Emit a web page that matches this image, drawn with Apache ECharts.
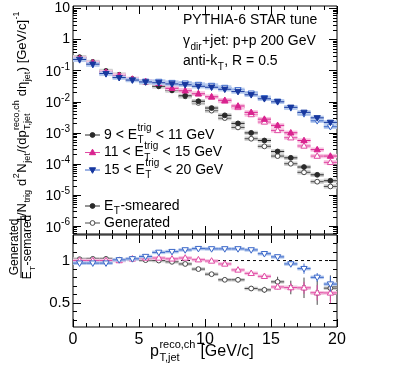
<!DOCTYPE html>
<html>
<head>
<meta charset="utf-8">
<script src="https://cdn.jsdelivr.net/npm/echarts@6/dist/echarts.min.js"></script>
<style>
  html, body { margin: 0; padding: 0; background: #fff; }
  #chart { width: 407px; height: 376px; }
</style>
</head>
<body>
<div id="chart"></div>
<script>
const FONT = '"Liberation Sans", Arial, sans-serif';

// bin centres of p_T,jet (GeV/c), bins are 1 GeV/c wide
const binCenters = [0.5, 1.5, 2.5, 3.5, 4.5, 5.5, 6.5, 7.5, 8.5, 9.5,
                    10.5, 11.5, 12.5, 13.5, 14.5, 15.5, 16.5, 17.5, 18.5, 19.5];
const binHalfWidth = 0.5;

// 9 < E_T^trig < 11 GeV
const smeared9to11 = [0.267, 0.188, 0.096, 0.073, 0.053, 0.0426, 0.0316, 0.0235, 0.0156, 0.0104,
                      0.0063, 0.00367, 0.00202, 0.00100, 5.7e-4, 2.53e-4, 1.58e-4, 8.0e-5, 4.5e-5, 2.9e-5];
const generated9to11 = [0.272, 0.19, 0.098, 0.074, 0.054, 0.0425, 0.0315, 0.0232, 0.015, 0.0092,
                        0.0052, 0.0030, 0.0015, 6.5e-4, 3.7e-4, 1.8e-4, 1.02e-4, 5.4e-5, 2.7e-5, 1.9e-5];
// 11 < E_T^trig < 15 GeV
const smeared11to15 = [0.248, 0.179, 0.0895, 0.070, 0.053, 0.0442, 0.0395, 0.0272, 0.0226, 0.0181,
                       0.0145, 0.0112, 0.00733, 0.00458, 0.00277, 0.00175, 0.00101, 5.7e-4, 2.9e-4, 1.8e-4];
const generated11to15 = [0.248, 0.18, 0.09, 0.071, 0.054, 0.0455, 0.041, 0.028, 0.0233, 0.0184,
                         0.0143, 0.0106, 0.0066, 0.0039, 0.00225, 0.0012, 7.0e-4, 3.8e-4, 1.8e-4, 1.13e-4];
// 15 < E_T^trig < 20 GeV
const smeared15to20 = [0.23, 0.162, 0.081, 0.060, 0.050, 0.0435, 0.041, 0.0375, 0.0353, 0.0316,
                       0.0294, 0.0253, 0.0213, 0.0168, 0.0125, 0.0100, 0.00665, 0.00458, 0.00305, 0.00218];
const generated15to20 = [0.223, 0.157, 0.079, 0.061, 0.051, 0.0455, 0.045, 0.0415, 0.0397, 0.036,
                         0.0334, 0.0288, 0.0242, 0.0189, 0.0135, 0.0104, 0.0064, 0.0041, 0.00245, 0.00158];

// Generated / E_T-smeared ratios and their errors
const ratio9to11 = [1.016, 1.02, 1.02, 1.01, 1.02, 1.005, 1.0, 0.985, 0.96, 0.90,
                    0.84, 0.774, 0.774, 0.672, 0.656, 0.75, 0.684, 0.68, 0.62, 0.676];
const ratioErr9to11 = [0.01, 0.01, 0.01, 0.01, 0.01, 0.01, 0.01, 0.012, 0.015, 0.02,
                       0.02, 0.025, 0.03, 0.03, 0.035, 0.06, 0.08, 0.12, 0.14, 0.15];
const ratio11to15 = [1.0, 1.0, 1.0, 1.0, 1.02, 1.03, 1.03, 1.02, 1.03, 1.01,
                     0.995, 0.96, 0.89, 0.85, 0.815, 0.69, 0.683, 0.68, 0.622, 0.62];
const ratioErr11to15 = [0.01, 0.01, 0.01, 0.01, 0.01, 0.01, 0.01, 0.01, 0.01, 0.012,
                        0.015, 0.015, 0.02, 0.02, 0.025, 0.03, 0.05, 0.07, 0.09, 0.12];
const ratio15to20 = [0.97, 0.97, 0.97, 1.008, 1.02, 1.047, 1.096, 1.105, 1.125, 1.14,
                     1.137, 1.137, 1.137, 1.125, 1.08, 1.043, 0.96, 0.905, 0.803, 0.724];
const ratioErr15to20 = [0.01, 0.01, 0.01, 0.01, 0.01, 0.01, 0.01, 0.01, 0.01, 0.01,
                        0.01, 0.01, 0.012, 0.015, 0.02, 0.02, 0.03, 0.06, 0.05, 0.09];

const unityLine = [[0, 1], [20, 1]];

const topLabelExponents = [-6, -5, -4, -3, -2, -1, 0, 1];
const ratioLabels = [0.5, 1];

const colors = {
  black:   { dark: '#2a2a2a', open: '#4a4a4a', light: '#cfcfcf' },
  magenta: { dark: '#d9238f', open: '#e04aa4', light: '#f7c3e0' },
  blue:    { dark: '#17389f', open: '#3a67c9', light: '#b7cbee' }
};

// text measuring for the little TLatex-like labels
const measureCtx = document.createElement('canvas').getContext('2d');
function textWidth(s, size) {
  measureCtx.font = size + 'px ' + FONT;
  return measureCtx.measureText(s).width;
}

// tokens: [base, superscript, subscript]; sup/sub are stacked like ROOT does
function latex(tokens, size, color, scriptSize) {
  const small = scriptSize || Math.round(size * 0.7);
  const kids = [];
  let x = 0;
  const txt = (s, px, dx, dy) => ({
    type: 'text', x: dx, y: dy, silent: true,
    style: { text: s, font: px + 'px ' + FONT, fill: color, textAlign: 'left', textVerticalAlign: 'middle' }
  });
  tokens.forEach(([t, sup, sub]) => {
    if (t) { kids.push(txt(t, size, x, 0)); x += textWidth(t, size); }
    let w = 0;
    if (sup) { kids.push(txt(sup, small, x + 0.5, -size * 0.45)); w = Math.max(w, textWidth(sup, small) + 1); }
    if (sub) { kids.push(txt(sub, small, x + 0.5, size * 0.38)); w = Math.max(w, textWidth(sub, small) + 1); }
    x += w;
  });
  return { kids, width: x };
}

function placeLatex(tokens, size, x, y, opts) {
  opts = opts || {};
  const lt = latex(tokens, size, opts.color || '#000', opts.scriptSize);
  let shift = 0;
  if (opts.anchor === 'end') shift = -lt.width;
  else if (opts.anchor === 'middle') shift = -lt.width / 2;
  lt.kids.forEach(k => { k.x += shift; });
  return { type: 'group', x, y, rotation: opts.rotation || 0, children: lt.kids, silent: true };
}

function markerShape(shape, cx, cy, color, filled) {
  const style = { fill: filled ? color : '#fff', stroke: color, lineWidth: 1 };
  if (shape === 'circle') return { type: 'circle', shape: { cx, cy, r: 2.4 }, style };
  const s = shape === 'up' ? 1 : -1;
  return {
    type: 'polygon',
    shape: { points: [[cx, cy - 3.3 * s], [cx + 3.1, cy + 2.2 * s], [cx - 3.1, cy + 2.2 * s]] },
    style
  };
}

function pointRenderer(shape, palette, filled, boxHalf) {
  const color = filled ? palette.dark : palette.open;
  return (params, api) => {
    const x = api.value(0), y = api.value(1), e = api.value(2) || 0;
    const c = api.coord([x, y]);
    const l = api.coord([x - binHalfWidth, y]);
    const r = api.coord([x + binHalfWidth, y]);
    const kids = [
      { type: 'rect', shape: { x: l[0], y: c[1] - boxHalf, width: r[0] - l[0], height: 2 * boxHalf },
        style: { fill: palette.light } },
      { type: 'line', shape: { x1: l[0], y1: c[1], x2: r[0], y2: c[1] },
        style: { stroke: color, lineWidth: 1 } }
    ];
    if (e > 0) {
      const lo = api.coord([x, y - e]), hi = api.coord([x, y + e]);
      kids.push({ type: 'line', shape: { x1: c[0], y1: lo[1], x2: c[0], y2: hi[1] },
        style: { stroke: color, lineWidth: 1 } });
    }
    kids.push(markerShape(shape, c[0], c[1], color, filled));
    return { type: 'group', children: kids };
  };
}

function spectrumSeries(name, values, shape, palette, filled) {
  return {
    name, type: 'custom', xAxisIndex: 0, yAxisIndex: 0, clip: true,
    data: values.map((v, i) => [binCenters[i], Math.log10(v), 0]),
    renderItem: pointRenderer(shape, palette, filled, 2.2),
    z: filled ? 4 : 3
  };
}

function ratioSeries(name, values, errs, shape, palette) {
  return {
    name, type: 'custom', xAxisIndex: 2, yAxisIndex: 4, clip: true,
    data: values.map((v, i) => [binCenters[i], v, errs[i]]),
    renderItem: pointRenderer(shape, palette, false, 1.8),
    z: 3
  };
}

// tick positions
const logMinor = [];
for (let n = -7; n <= 1; n++) for (let k = 2; k <= 9; k++) logMinor.push(n + Math.log10(k));
const ratioMinor = [0.3, 0.4, 0.6, 0.7, 0.8, 0.9, 1.1, 1.2];

const TOP = { min: -6.25, max: 1.08 };
const LOW = { min: 0.22, max: 1.3 };

function xAxisDef(gridIndex, position, labels) {
  return {
    type: 'value', gridIndex, position, min: 0, max: 20, interval: 5,
    axisLine: { show: false, onZero: false }, splitLine: { show: false },
    axisTick: { show: true, inside: true, length: 8, lineStyle: { color: '#000' } },
    minorTick: { show: true, splitNumber: 5, length: 4, lineStyle: { color: '#000' } },
    axisLabel: labels ? { show: true, margin: 5, fontSize: 16, fontFamily: FONT, color: '#000' } : { show: false }
  };
}

function yAxisDef(gridIndex, position, range, ticks, len, label) {
  return {
    type: 'value', gridIndex, position, min: range.min, max: range.max,
    axisLine: { show: false, onZero: false }, splitLine: { show: false },
    axisTick: { show: true, inside: true, length: len, customValues: ticks, lineStyle: { color: '#000' } },
    axisLabel: label || { show: false }
  };
}

const topLabel = {
  show: true, customValues: topLabelExponents, margin: 3, color: '#000',
  formatter: v => {
    const n = Math.round(v);
    if (n === 1) return '{b|10}';
    if (n === 0) return '{b|1}';
    return '{b|10}{s|' + n + '}';
  },
  rich: {
    b: { fontSize: 14, fontFamily: FONT, color: '#000', verticalAlign: 'bottom' },
    s: { fontSize: 10, fontFamily: FONT, color: '#000', verticalAlign: 'bottom', padding: [0, 0, 7, 0] }
  }
};

const lowLabel = {
  show: true, customValues: ratioLabels, margin: 3, color: '#000',
  fontSize: 15, fontFamily: FONT,
  formatter: v => (v === 1 ? '1' : String(v))
};

const chart = echarts.init(document.getElementById('chart'));

const series = [
  spectrumSeries('gen 9-11', generated9to11, 'circle', colors.black, false),
  spectrumSeries('gen 11-15', generated11to15, 'up', colors.magenta, false),
  spectrumSeries('gen 15-20', generated15to20, 'down', colors.blue, false),
  spectrumSeries('smeared 9-11', smeared9to11, 'circle', colors.black, true),
  spectrumSeries('smeared 11-15', smeared11to15, 'up', colors.magenta, true),
  spectrumSeries('smeared 15-20', smeared15to20, 'down', colors.blue, true),
  {
    name: 'unity', type: 'line', xAxisIndex: 2, yAxisIndex: 4, data: unityLine,
    symbol: 'none', silent: true, z: 2,
    lineStyle: { color: '#000', width: 1, type: [3, 3] }
  },
  ratioSeries('ratio 9-11', ratio9to11, ratioErr9to11, 'circle', colors.black),
  ratioSeries('ratio 11-15', ratio11to15, ratioErr11to15, 'up', colors.magenta),
  ratioSeries('ratio 15-20', ratio15to20, ratioErr15to20, 'down', colors.blue)
];

// legend drawn like the ROOT TLegend
const legendRows = [
  { y: 135, tokens: [['9 < E', 'trig', 'T'], [' < 11 GeV']], shape: 'circle', pal: colors.black, line: colors.black.dark, filled: true },
  { y: 152.5, tokens: [['11 < E', 'trig', 'T'], [' < 15 GeV']], shape: 'up', pal: colors.magenta, line: colors.magenta.open, filled: true },
  { y: 170, tokens: [['15 < E', 'trig', 'T'], [' < 20 GeV']], shape: 'down', pal: colors.blue, line: colors.blue.open, filled: true },
  { y: 206, tokens: [['E', null, 'T'], ['-smeared']], shape: 'circle', pal: colors.black, line: colors.black.dark, filled: true },
  { y: 223, tokens: [['Generated']], shape: 'circle', pal: colors.black, line: colors.black.open, filled: false }
];
const legendGraphics = [];
legendRows.forEach(row => {
  legendGraphics.push({ type: 'line', silent: true, shape: { x1: 85, y1: row.y, x2: 100, y2: row.y },
    style: { stroke: row.line, lineWidth: 1 } });
  legendGraphics.push(markerShape(row.shape, 92.5, row.y, row.filled ? row.pal.dark : row.pal.open, row.filled));
  legendGraphics.push(placeLatex(row.tokens, 14, 104, row.y));
});

const yTitleTokens = [['1/N', null, 'trig'], [' d', '2'], ['N', null, 'jet'], ['/(dp', 'reco,ch', 'T,jet'],
                      [' d\u03b7', null, 'jet'], [') [GeV/c]', '-1']];

const graphics = [
  placeLatex([['PYTHIA-6 STAR tune']], 14, 183, 20.5),
  placeLatex([['\u03b3', null, 'dir'], ['+jet: p+p 200 GeV']], 14, 183, 41.5),
  placeLatex([['anti-k', null, 'T'], [', R = 0.5']], 14, 183, 61.5),
  ...legendGraphics,
  // y title of the spectrum pad, ending near the top of the frame
  placeLatex(yTitleTokens, 13, 22.5, 11, { rotation: Math.PI / 2, anchor: 'end', scriptSize: 9 }),
  // x title
  placeLatex([['p', 'reco,ch', 'T,jet'], [' [GeV/c]']], 16, 150, 352, { scriptSize: 11 }),
  // ratio pad y title (fraction)
  {
    type: 'group', x: 21, y: 247, rotation: Math.PI / 2, silent: true,
    children: [
      placeLatex([['Generated']], 12, 0, -6.5, { anchor: 'middle' }),
      { type: 'line', shape: { x1: -31, y1: 0, x2: 31, y2: 0 }, style: { stroke: '#000', lineWidth: 1 } },
      placeLatex([['E', null, 'T'], ['-semared']], 12, 0, 7, { anchor: 'middle', scriptSize: 8 })
    ]
  }
];

chart.setOption({
  animation: false,
  backgroundColor: '#fff',
  grid: [
    { left: 73, top: 6, width: 264, height: 228, show: true, borderColor: '#000', borderWidth: 1, backgroundColor: 'transparent' },
    { left: 73, top: 235, width: 264, height: 92, show: true, borderColor: '#000', borderWidth: 1, backgroundColor: 'transparent' }
  ],
  xAxis: [
    xAxisDef(0, 'bottom', false),
    xAxisDef(0, 'top', false),
    xAxisDef(1, 'bottom', true),
    xAxisDef(1, 'top', false)
  ],
  yAxis: [
    yAxisDef(0, 'left', TOP, topLabelExponents, 8, topLabel),
    yAxisDef(0, 'left', TOP, logMinor, 4),
    yAxisDef(0, 'right', TOP, topLabelExponents, 8),
    yAxisDef(0, 'right', TOP, logMinor, 4),
    yAxisDef(1, 'left', LOW, ratioLabels, 8, lowLabel),
    yAxisDef(1, 'left', LOW, ratioMinor, 4),
    yAxisDef(1, 'right', LOW, ratioLabels, 8),
    yAxisDef(1, 'right', LOW, ratioMinor, 4)
  ],
  series,
  graphic: graphics
});
</script>
</body>
</html>
